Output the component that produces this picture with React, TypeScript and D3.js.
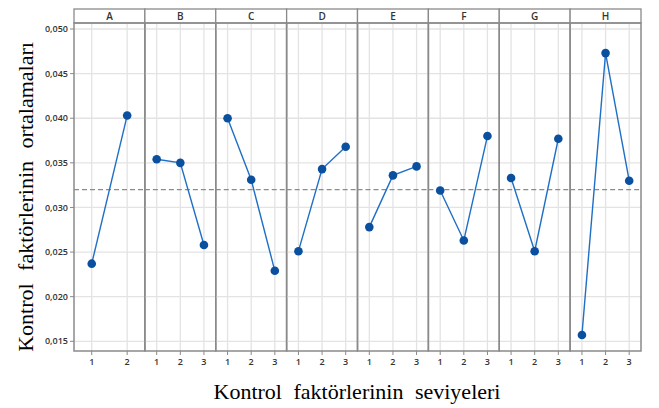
import React from "react";
import * as d3 from "d3";

// factor names and level labels
const factors = ["A", "B", "C", "D", "E", "F", "G", "H"];
const levels = [
  ["1", "2"],
  ["1", "2", "3"],
  ["1", "2", "3"],
  ["1", "2", "3"],
  ["1", "2", "3"],
  ["1", "2", "3"],
  ["1", "2", "3"],
  ["1", "2", "3"],
];
// main effect means per level
const means = [
  [0.0237, 0.0403],
  [0.0354, 0.0350, 0.0258],
  [0.0400, 0.0331, 0.0229],
  [0.0251, 0.0343, 0.0368],
  [0.0278, 0.0336, 0.0346],
  [0.0319, 0.0263, 0.0380],
  [0.0333, 0.0251, 0.0377],
  [0.0157, 0.0473, 0.0330],
];
const grandMean = 0.032;
const yTicks = [0.015, 0.02, 0.025, 0.03, 0.035, 0.04, 0.045, 0.05];

const width = 659;
const height = 408;
const left = 74;
const right = 641;
const stripTop = 9;
const plotTop = 23;
const plotBottom = 351;

const fmt = (v: number) => d3.format(".3f")(v).replace(".", ",");

const App = () => {
  const y = d3.scaleLinear().domain([0.015, 0.05]).range([341.3, 29]);
  const panel = d3
    .scaleBand<string>()
    .domain(factors)
    .range([left, right])
    .paddingInner(0)
    .paddingOuter(0);
  const pw = panel.bandwidth();

  const line = d3
    .line<[number, number]>()
    .x((d) => d[0])
    .y((d) => d[1]);

  const tickFont = "'Open Sans', 'Noto Sans', sans-serif";
  const titleFont = "'Liberation Serif', 'DejaVu Serif', serif";

  return (
    <svg
      width={width}
      height={height}
      style={{ position: "absolute", left: 0, top: 0, background: "#fff" }}
    >
      {factors.map((f, i) => {
        const x0 = panel(f) as number;
        const xs = d3
          .scalePoint<string>()
          .domain(levels[i])
          .range([x0, x0 + pw])
          .padding(0.5);
        const pts: [number, number][] = levels[i].map((l, j) => [
          xs(l) as number,
          y(means[i][j]),
        ]);
        return (
          <g key={f}>
            {/* grid */}
            {yTicks.map((t) => (
              <line
                key={"h" + t}
                x1={x0}
                x2={x0 + pw}
                y1={y(t)}
                y2={y(t)}
                stroke="#e3e3e3"
                strokeWidth={1.3}
              />
            ))}
            {levels[i].map((l) => (
              <line
                key={"v" + l}
                x1={xs(l)}
                x2={xs(l)}
                y1={plotTop}
                y2={plotBottom}
                stroke="#e3e3e3"
                strokeWidth={1.3}
              />
            ))}
            {/* x ticks */}
            {levels[i].map((l) => (
              <g key={"t" + l}>
                <line
                  x1={xs(l)}
                  x2={xs(l)}
                  y1={plotBottom}
                  y2={plotBottom + 4}
                  stroke="#888"
                  strokeWidth={1}
                />
                <text
                  x={xs(l)}
                  y={plotBottom + 14}
                  textAnchor="middle"
                  fontFamily={tickFont}
                  fontSize={9}
                  fontWeight={600}
                  fill="#333"
                >
                  {l}
                </text>
              </g>
            ))}
            {/* strip */}
            <rect
              x={x0}
              y={stripTop}
              width={pw}
              height={plotTop - stripTop}
              fill="#fff"
              stroke="#8a8a8a"
              strokeWidth={1.3}
            />
            <text
              x={x0 + pw / 2}
              y={stripTop + 11}
              textAnchor="middle"
              fontFamily={tickFont}
              fontSize={10}
              fontWeight={600}
              fill="#333"
            >
              {f}
            </text>
            <rect
              x={x0}
              y={plotTop}
              width={pw}
              height={plotBottom - plotTop}
              fill="none"
              stroke="#8a8a8a"
              strokeWidth={1.5}
            />
            {/* reference line */}
            <line
              x1={x0}
              x2={x0 + pw}
              y1={y(grandMean)}
              y2={y(grandMean)}
              stroke="#8c8c8c"
              strokeWidth={1.3}
              strokeDasharray="5,3"
            />
            <path
              d={line(pts) || ""}
              fill="none"
              stroke="#1f6fc5"
              strokeWidth={1.4}
            />
            {pts.map((p, j) => (
              <circle key={j} cx={p[0]} cy={p[1]} r={4.3} fill="#0a509e" />
            ))}
          </g>
        );
      })}
      {/* y axis */}
      {yTicks.map((t) => (
        <g key={"y" + t}>
          <line
            x1={left - 4}
            x2={left}
            y1={y(t)}
            y2={y(t)}
            stroke="#888"
            strokeWidth={1}
          />
          <text
            x={left - 6}
            y={y(t)}
            dy="0.35em"
            textAnchor="end"
            fontFamily={tickFont}
            fontSize={9}
            fontWeight={600}
            fill="#333"
          >
            {fmt(t)}
          </text>
        </g>
      ))}
      <text
        transform={`translate(33, 197) rotate(-90)`}
        textAnchor="middle"
        fontFamily={titleFont}
        fontSize={22}
        wordSpacing={7}
        fill="#000"
      >
        Kontrol faktörlerinin ortalamaları
      </text>
      <text
        x={357}
        y={399}
        textAnchor="middle"
        fontFamily={titleFont}
        fontSize={22}
        wordSpacing={6}
        fill="#000"
      >
        Kontrol faktörlerinin seviyeleri
      </text>
    </svg>
  );
};

export default App;
